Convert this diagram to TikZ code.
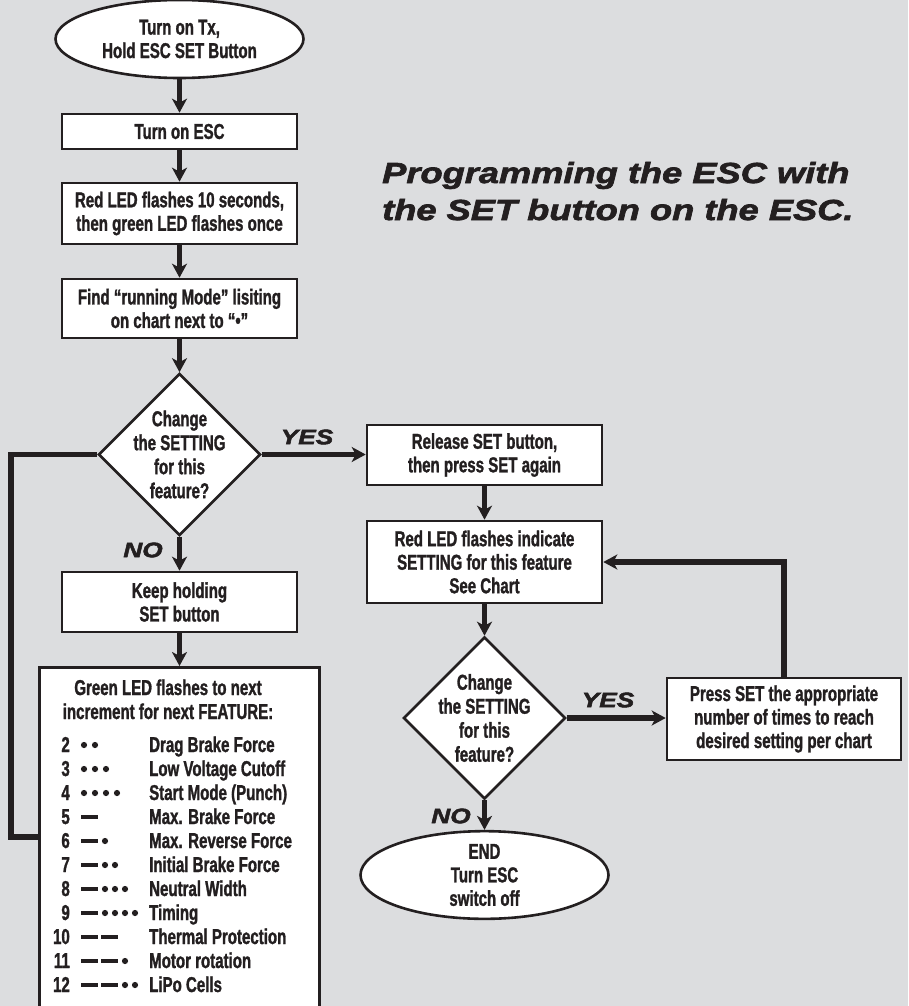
\documentclass[tikz,border=0pt]{standalone}
\usepackage{fontspec}
\usetikzlibrary{shapes.geometric,arrows.meta}
\newfontfamily\condfont[FakeStretch=0.7,FakeBold=1.3]{Liberation Sans Bold}
\newfontfamily\heavyfont[FakeStretch=1.25,FakeBold=2.4]{Liberation Sans Bold Italic}
\definecolor{bg}{RGB}{220,221,223}
\definecolor{ink}{RGB}{35,31,32}
\newcommand\ledrow[3]{%
  \ifnum#2>0
    \foreach \j in {1,...,#2} {\fill[ink] ({81+20*(\j-1)},{#1-9.2}) rectangle ({98+20*(\j-1)},{#1-4.8});}
    \ifnum#3>0
      \foreach \i in {1,...,#3} {\fill[ink] ({98+20*(#2-1)+7+10*(\i-1)},{#1-7}) circle (3.1pt);}
    \fi
  \else
    \foreach \i in {1,...,#3} {\fill[ink] ({84+11*(\i-1)},{#1-7}) circle (3.1pt);}
  \fi}
\tikzset{
  shapebase/.style={draw=ink, line width=2.6pt, fill=white, text=ink,
    font=\condfont\fontsize{21.5}{23.5}\selectfont, align=center, inner sep=0pt},
  procbox/.style={shapebase, rectangle, minimum width=235pt},
  termin/.style={shapebase, ellipse, minimum width=248pt, minimum height=78pt},
  decision/.style={shapebase, diamond, minimum width=162pt, minimum height=162pt},
  conn/.style={draw=ink, line width=5.5pt},
  arr/.style={conn, -{Stealth[length=14pt,width=15pt,inset=4pt]}},
  yesno/.style={text=ink, font=\heavyfont\fontsize{21}{24}\selectfont, inner sep=0pt},
  charttext/.style={text=ink, font=\condfont\fontsize{21.5}{24}\selectfont, inner sep=0pt},
}
\begin{document}
\begin{tikzpicture}[x=1pt,y=-1pt]
\useasboundingbox (0,0) rectangle (908,1006);
\clip (0,0) rectangle (908,1006);
\fill[bg] (0,0) rectangle (908,1006);

% left column
\node[termin] (start) at (179.5,39) {Turn on Tx,\\Hold ESC SET Button};
\node[procbox, minimum height=35pt] (b1) at (179.5,131.5) {Turn on ESC};
\node[procbox, minimum height=61pt] (b2) at (179.5,213.5) {Red LED flashes 10 seconds,\\then green LED flashes once};
\node[procbox, minimum height=59pt] (b3) at (179.5,308.5) {Find “running Mode” lisiting\\on chart next to “•”};
\node[decision, label={[charttext, align=center]center:{Change\\the SETTING\\for this\\feature?}}] (d1) at (179.5,454.5) {};
\node[procbox, minimum height=60pt] (b4) at (179.5,602) {Keep holding\\SET button};
\node[procbox, minimum width=280pt, minimum height=360pt, anchor=north west] (gbox) at (38,666) {};

\node[charttext, align=center, anchor=base] (gtitle) at (168,719) {Green LED flashes to next\\increment for next FEATURE:};
\foreach \k/\nd/\np/\lab in {2/0/2/Drag Brake Force, 3/0/3/Low Voltage Cutoff, 4/0/4/Start Mode (Punch),
  5/1/0/Max. Brake Force, 6/1/1/Max. Reverse Force, 7/1/2/Initial Brake Force, 8/1/3/Neutral Width,
  9/1/4/Timing, 10/2/0/Thermal Protection, 11/2/1/Motor rotation, 12/2/2/LiPo Cells} {
  \pgfmathtruncatemacro\yb{752+24*(\k-2)}
  \node[charttext, anchor=base east] (n\k) at (70,\yb) {\k};
  \node[charttext, anchor=base west] (l\k) at (149,\yb) {\lab};
  \ledrow{\yb}{\nd}{\np}
}

% right column
\node[procbox, minimum height=60pt] (rel) at (484.5,455) {Release SET button,\\then press SET again};
\node[procbox, minimum height=82pt] (red) at (484.5,562) {Red LED flashes indicate\\SETTING for this feature\\See Chart};
\node[decision, label={[charttext, align=center]center:{Change\\the SETTING\\for this\\feature?}}] (d2) at (484.5,718) {};
\node[procbox, minimum width=234pt, minimum height=82pt] (press) at (784,719) {Press SET the appropriate\\number of times to reach\\desired setting per chart};
\node[termin, minimum height=80pt] (end) at (484.5,875) {END\\Turn ESC\\switch off};

% title
\node[text=ink, font=\heavyfont\fontsize{29}{37}\selectfont, align=left, inner sep=0pt, anchor=base west] (title) at (382,220) {Programming the ESC with\\the SET button on the ESC.};

% labels
\node[yesno] (yes1) at (307,437) {YES};
\node[yesno] (no1) at (143,550) {NO};
\node[yesno] (yes2) at (608,700) {YES};
\node[yesno] (no2) at (451,816) {NO};

% connectors
\draw[arr] (start.south) -- (b1.north);
\draw[arr] (b1.south) -- (b2.north);
\draw[arr] (b2.south) -- (b3.north);
\draw[arr] (b3.south) -- (d1.north);
\draw[arr] (d1.south) -- (b4.north);
\draw[arr] (b4.south) -- (gbox.north -| b4.south);
\draw[arr] (d1.east) -- (d1.east -| rel.west);
\draw[arr] (rel.south) -- (red.north);
\draw[arr] (red.south) -- (d2.north);
\draw[arr] (d2.east) -- (d2.east -| press.west);
\draw[arr] (press.north) |- (red.east);
\draw[arr] (d2.south) -- (end.north);
\coordinate (lp1) at (11,454.5);
\coordinate (lp2) at (11,837);
\draw[conn] (d1.west) -- (lp1) -- (lp2) -- (lp2 -| gbox.west);
\end{tikzpicture}
\end{document}
